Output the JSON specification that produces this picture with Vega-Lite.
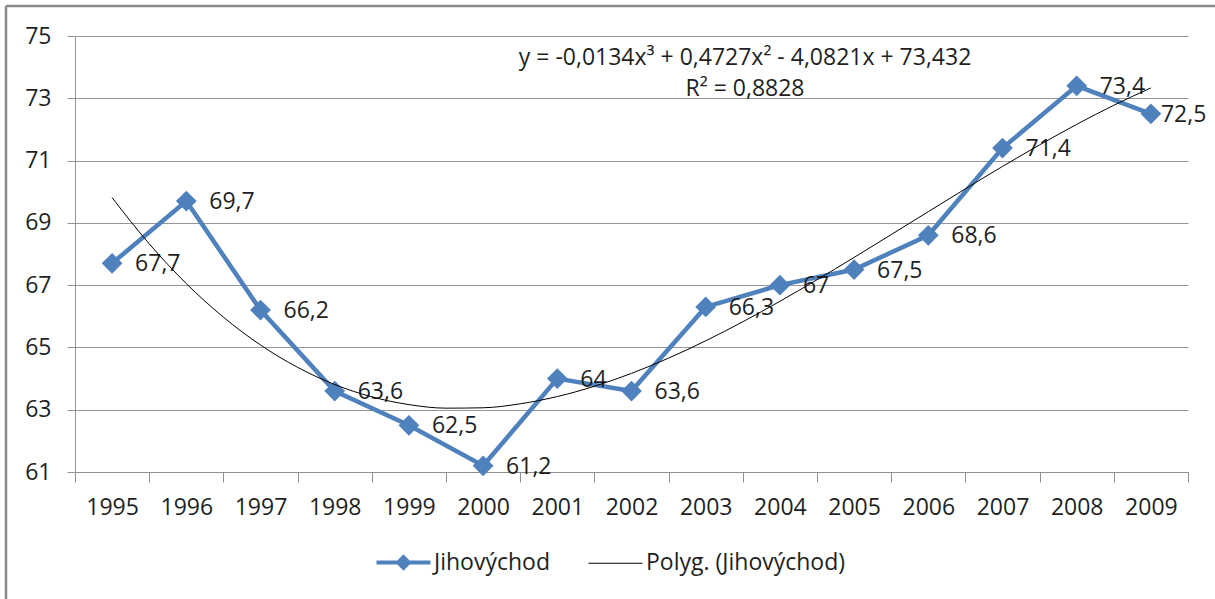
{
  "$schema": "https://vega.github.io/schema/vega-lite/v6.json",
  "width": 1113,
  "height": 436,
  "autosize": {"type": "none"},
  "padding": {"left": 75, "top": 36, "right": 27, "bottom": 127},
  "background": "white",
  "config": {"view": {"stroke": null}, "font": "Open Sans"},
  "datasets": {
    "main": [
      {"year": 1995, "value": 67.7, "label": "67,7", "series": "Jihovýchod"},
      {"year": 1996, "value": 69.7, "label": "69,7", "series": "Jihovýchod"},
      {"year": 1997, "value": 66.2, "label": "66,2", "series": "Jihovýchod"},
      {"year": 1998, "value": 63.6, "label": "63,6", "series": "Jihovýchod"},
      {"year": 1999, "value": 62.5, "label": "62,5", "series": "Jihovýchod"},
      {"year": 2000, "value": 61.2, "label": "61,2", "series": "Jihovýchod"},
      {"year": 2001, "value": 64, "label": "64", "series": "Jihovýchod"},
      {"year": 2002, "value": 63.6, "label": "63,6", "series": "Jihovýchod"},
      {"year": 2003, "value": 66.3, "label": "66,3", "series": "Jihovýchod"},
      {"year": 2004, "value": 67, "label": "67", "series": "Jihovýchod"},
      {"year": 2005, "value": 67.5, "label": "67,5", "series": "Jihovýchod"},
      {"year": 2006, "value": 68.6, "label": "68,6", "series": "Jihovýchod"},
      {"year": 2007, "value": 71.4, "label": "71,4", "series": "Jihovýchod"},
      {"year": 2008, "value": 73.4, "label": "73,4", "series": "Jihovýchod"},
      {"year": 2009, "value": 72.5, "label": "72,5", "series": "Jihovýchod"}
    ],
    "trend": [
      {"year": 1995, "value": 69.809, "series": "Polyg. (Jihovýchod)"},
      {"year": 1995.5, "value": 68.327, "series": "Polyg. (Jihovýchod)"},
      {"year": 1996, "value": 67.051, "series": "Polyg. (Jihovýchod)"},
      {"year": 1996.5, "value": 65.972, "series": "Polyg. (Jihovýchod)"},
      {"year": 1997, "value": 65.078, "series": "Polyg. (Jihovýchod)"},
      {"year": 1997.5, "value": 64.361, "series": "Polyg. (Jihovýchod)"},
      {"year": 1998, "value": 63.809, "series": "Polyg. (Jihovýchod)"},
      {"year": 1998.5, "value": 63.414, "series": "Polyg. (Jihovýchod)"},
      {"year": 1999, "value": 63.164, "series": "Polyg. (Jihovýchod)"},
      {"year": 1999.5, "value": 63.050, "series": "Polyg. (Jihovýchod)"},
      {"year": 2000, "value": 63.062, "series": "Polyg. (Jihovýchod)"},
      {"year": 2000.5, "value": 63.190, "series": "Polyg. (Jihovýchod)"},
      {"year": 2001, "value": 63.423, "series": "Polyg. (Jihovýchod)"},
      {"year": 2001.5, "value": 63.753, "series": "Polyg. (Jihovýchod)"},
      {"year": 2002, "value": 64.167, "series": "Polyg. (Jihovýchod)"},
      {"year": 2002.5, "value": 64.657, "series": "Polyg. (Jihovýchod)"},
      {"year": 2003, "value": 65.213, "series": "Polyg. (Jihovýchod)"},
      {"year": 2003.5, "value": 65.824, "series": "Polyg. (Jihovýchod)"},
      {"year": 2004, "value": 66.481, "series": "Polyg. (Jihovýchod)"},
      {"year": 2004.5, "value": 67.173, "series": "Polyg. (Jihovýchod)"},
      {"year": 2005, "value": 67.890, "series": "Polyg. (Jihovýchod)"},
      {"year": 2005.5, "value": 68.623, "series": "Polyg. (Jihovýchod)"},
      {"year": 2006, "value": 69.360, "series": "Polyg. (Jihovýchod)"},
      {"year": 2006.5, "value": 70.093, "series": "Polyg. (Jihovýchod)"},
      {"year": 2007, "value": 70.811, "series": "Polyg. (Jihovýchod)"},
      {"year": 2007.5, "value": 71.504, "series": "Polyg. (Jihovýchod)"},
      {"year": 2008, "value": 72.162, "series": "Polyg. (Jihovýchod)"},
      {"year": 2008.5, "value": 72.776, "series": "Polyg. (Jihovýchod)"},
      {"year": 2009, "value": 73.333, "series": "Polyg. (Jihovýchod)"}
    ]
  },
  "layer": [
    {
      "data": {"name": "main"},
      "mark": {"type": "line", "strokeWidth": 4.5},
      "encoding": {
        "x": {
          "field": "year", "type": "quantitative",
          "scale": {"domain": [1994.5, 2009.5], "nice": false, "zero": false},
          "axis": {
            "title": null,
            "values": [1994.5, 1995.5, 1996.5, 1997.5, 1998.5, 1999.5, 2000.5, 2001.5, 2002.5, 2003.5, 2004.5, 2005.5, 2006.5, 2007.5, 2008.5, 2009.5],
            "labelExpr": "datum.value < 2009 ? format(datum.value + 0.5, 'd') : ''",
            "labelOffset": 37.1,
            "labelFlush": false,
            "labelOverlap": false,
            "labelBound": false,
            "grid": false,
            "tickSize": 10,
            "tickColor": "#8f8f8f",
            "domainColor": "#8f8f8f",
            "labelFontSize": 23,
            "labelColor": "#1f1f1f",
            "labelPadding": 14,
            "labelFont": "Open Sans"
          }
        },
        "y": {
          "field": "value", "type": "quantitative",
          "scale": {"domain": [61, 75], "nice": false, "zero": false},
          "axis": {
            "title": null,
            "values": [61, 63, 65, 67, 69, 71, 73, 75],
            "grid": true,
            "gridColor": "#969696",
            "gridWidth": 1,
            "tickSize": 8,
            "tickColor": "#969696",
            "domainColor": "#969696",
            "labelFontSize": 23,
            "labelColor": "#1f1f1f",
            "labelPadding": 16,
            "labelFont": "Open Sans"
          }
        },
        "color": {
          "field": "series", "type": "nominal",
          "scale": {"domain": ["Jihovýchod", "Polyg. (Jihovýchod)"], "range": ["#4F81BD", "#000000"]},
          "legend": {
            "title": null,
            "orient": "none",
            "direction": "horizontal",
            "legendX": 317,
            "legendY": 515,
            "padding": 0,
            "symbolSize": 2916,
            "labelOffset": 19,
            "labelLimit": 500,
            "columnPadding": 36,
            "labelFontSize": 23,
            "labelColor": "#1f1f1f",
            "labelFont": "Open Sans",
            "encode": {
              "symbols": {
                "update": {
                  "shape": {"signal": "datum.value === 'Jihovýchod' ? 'M-1,0L1,0M0,-0.2L0.2,0L0,0.2L-0.2,0Z' : 'M-1,0L1,0'"},
                  "strokeWidth": {"signal": "datum.value === 'Jihovýchod' ? 4 : 1"},
                  "fill": {"signal": "datum.value === 'Jihovýchod' ? '#4F81BD' : 'transparent'"},
                  "opacity": {"value": 1}
                }
              }
            }
          }
        }
      }
    },
    {
      "data": {"values": [{}]},
      "mark": {"type": "rule", "color": "#8a8a8a", "strokeWidth": 2.5},
      "encoding": {
        "x": {"datum": 1993.57, "type": "quantitative"},
        "y": {"datum": 75.963, "type": "quantitative"},
        "y2": {"datum": 56.5}
      }
    },
    {
      "data": {"values": [{}]},
      "mark": {"type": "rule", "color": "#8a8a8a", "strokeWidth": 2.5},
      "encoding": {
        "x": {"datum": 1993.57, "type": "quantitative"},
        "x2": {"datum": 2010.2},
        "y": {"datum": 75.963, "type": "quantitative"}
      }
    },
    {
      "data": {"name": "main"},
      "mark": {"type": "point", "shape": "diamond", "filled": true, "size": 430, "opacity": 1, "color": "#4F81BD"},
      "encoding": {
        "x": {"field": "year", "type": "quantitative"},
        "y": {"field": "value", "type": "quantitative"}
      }
    },
    {
      "data": {"name": "main"},
      "transform": [{"filter": "datum.year < 2009"}],
      "mark": {"type": "text", "align": "left", "baseline": "middle", "dx": 23, "dy": 1, "fontSize": 23, "font": "Open Sans", "color": "#1f1f1f"},
      "encoding": {
        "x": {"field": "year", "type": "quantitative"},
        "y": {"field": "value", "type": "quantitative"},
        "text": {"field": "label"}
      }
    },
    {
      "data": {"name": "main"},
      "transform": [{"filter": "datum.year == 2009"}],
      "mark": {"type": "text", "align": "left", "baseline": "middle", "dx": 10, "dy": 1, "fontSize": 23, "font": "Open Sans", "color": "#1f1f1f"},
      "encoding": {
        "x": {"field": "year", "type": "quantitative"},
        "y": {"field": "value", "type": "quantitative"},
        "text": {"field": "label"}
      }
    },
    {
      "data": {"name": "trend"},
      "mark": {"type": "line", "strokeWidth": 1, "interpolate": "monotone"},
      "encoding": {
        "x": {"field": "year", "type": "quantitative"},
        "y": {"field": "value", "type": "quantitative"},
        "color": {"field": "series", "type": "nominal"}
      }
    },
    {
      "data": {"values": [{}]},
      "mark": {"type": "text", "align": "center", "baseline": "middle", "fontSize": 23, "font": "Open Sans", "color": "#1f1f1f"},
      "encoding": {
        "x": {"datum": 2003.53, "type": "quantitative"},
        "y": {"datum": 74.294, "type": "quantitative"},
        "text": {"value": "y = -0,0134x³ + 0,4727x² - 4,0821x + 73,432"}
      }
    },
    {
      "data": {"values": [{}]},
      "mark": {"type": "text", "align": "center", "baseline": "middle", "fontSize": 23, "font": "Open Sans", "color": "#1f1f1f"},
      "encoding": {
        "x": {"datum": 2003.53, "type": "quantitative"},
        "y": {"datum": 73.298, "type": "quantitative"},
        "text": {"value": "R² = 0,8828"}
      }
    }
  ]
}
